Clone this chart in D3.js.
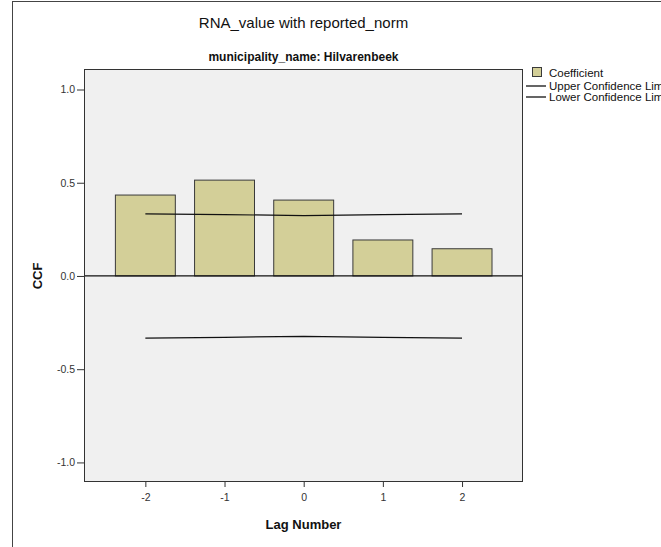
<!DOCTYPE html>
<html><head><meta charset="utf-8">
<script src="https://cdn.jsdelivr.net/npm/d3@7"></script>
<style>body{margin:0;background:#fff}svg{display:block;font-family:Arial,"Liberation Sans",sans-serif}</style>
</head><body>
<script>
const lags = [-2, -1, 0, 1, 2];
const coefficients = [0.434, 0.514, 0.407, 0.193, 0.146];
const upperConf = [0.333, 0.329, 0.324, 0.329, 0.333];
const lowerConf = [-0.333, -0.329, -0.324, -0.329, -0.333];
const yTicks = [-1.0, -0.5, 0.0, 0.5, 1.0];
const legendLabels = ["Coefficient", "Upper Confidence Limit", "Lower Confidence Limit"];

const W = 661, H = 547;
const svg = d3.select("body").append("svg").attr("width", W).attr("height", H);
const plot = {l: 84, r: 523, t: 69, b: 482};

svg.append("rect").attr("x", 12.5).attr("y", 1.5).attr("width", 700).attr("height", 600)
  .attr("fill", "#fff").attr("stroke", "#444").attr("stroke-width", 1);

const x = d3.scaleLinear().domain([-2.775, 2.77]).range([plot.l, plot.r]);
const y = d3.scaleLinear().domain([-1.105, 1.11]).range([plot.b, plot.t]);

svg.append("rect").attr("x", plot.l).attr("y", plot.t).attr("width", plot.r - plot.l).attr("height", plot.b - plot.t)
  .attr("fill", "#f0f0f0");

const barW = (x(1) - x(0)) * 0.757;
svg.append("g").selectAll("rect").data(lags).join("rect")
  .attr("x", (d) => x(d) - barW / 2)
  .attr("y", (d, i) => y(Math.max(0, coefficients[i])))
  .attr("width", barW)
  .attr("height", (d, i) => Math.abs(y(coefficients[i]) - y(0)))
  .attr("fill", "#d3cf98").attr("stroke", "#3a3a3a").attr("stroke-width", 1);

svg.append("line").attr("x1", plot.l).attr("x2", plot.r).attr("y1", y(0)).attr("y2", y(0))
  .attr("stroke", "#111").attr("stroke-width", 1.2);

const line = d3.line().x((d, i) => x(lags[i])).y((d) => y(d));
svg.append("path").datum(upperConf).attr("d", line).attr("fill", "none").attr("stroke", "#111").attr("stroke-width", 1.2);
svg.append("path").datum(lowerConf).attr("d", line).attr("fill", "none").attr("stroke", "#111").attr("stroke-width", 1.2);

svg.append("rect").attr("x", plot.l + 0.5).attr("y", plot.t + 0.5).attr("width", plot.r - plot.l - 1).attr("height", plot.b - plot.t - 1)
  .attr("fill", "none").attr("stroke", "#333").attr("stroke-width", 1);

const yAxis = svg.append("g").attr("transform", `translate(${plot.l},0)`)
  .call(d3.axisLeft(y).tickValues(yTicks).tickFormat((d) => d.toFixed(1)).tickSize(7).tickSizeOuter(0));
yAxis.select(".domain").remove();
yAxis.selectAll("line").attr("stroke", "#333");
yAxis.selectAll("text").attr("font-size", 10.5).attr("fill", "#333").attr("font-family", "Arial, 'Liberation Sans', sans-serif").attr("dx", 1);

const xAxis = svg.append("g").attr("transform", `translate(0,${plot.b})`)
  .call(d3.axisBottom(x).tickValues(lags).tickFormat((d) => String(d)).tickSize(5).tickSizeOuter(0));
xAxis.select(".domain").remove();
xAxis.selectAll("line").attr("stroke", "#333");
xAxis.selectAll("text").attr("font-size", 10.5).attr("fill", "#333").attr("font-family", "Arial, 'Liberation Sans', sans-serif").attr("dy", "1.0em");

const cx = (plot.l + plot.r) / 2;
svg.append("text").attr("x", cx).attr("y", 28).attr("text-anchor", "middle").attr("font-size", 15).attr("fill", "#111")
  .text("RNA_value with reported_norm");
svg.append("text").attr("x", cx).attr("y", 61).attr("text-anchor", "middle").attr("font-size", 12).attr("font-weight", "bold").attr("fill", "#111")
  .text("municipality_name: Hilvarenbeek");
svg.append("text").attr("x", cx).attr("y", 529).attr("text-anchor", "middle").attr("font-size", 13).attr("font-weight", "bold").attr("fill", "#111")
  .text("Lag Number");
svg.append("text").attr("transform", `translate(42,${y(0)}) rotate(-90)`).attr("text-anchor", "middle").attr("font-size", 13).attr("font-weight", "bold").attr("fill", "#111")
  .text("CCF");

const lg = svg.append("g").attr("font-size", 11.5).attr("fill", "#111");
lg.append("rect").attr("x", 532.5).attr("y", 67.5).attr("width", 9).attr("height", 9).attr("fill", "#d3cf98").attr("stroke", "#3a3a3a");
lg.append("text").attr("x", 549).attr("y", 77).text(legendLabels[0]);
[1, 2].forEach((k, j) => {
  const yy = 86 + j * 11;
  lg.append("line").attr("x1", 526).attr("x2", 546).attr("y1", yy).attr("y2", yy).attr("stroke", "#111").attr("stroke-width", 1.3);
  lg.append("text").attr("x", 549).attr("y", yy + 4).text(legendLabels[k]);
});
</script>
</body></html>
